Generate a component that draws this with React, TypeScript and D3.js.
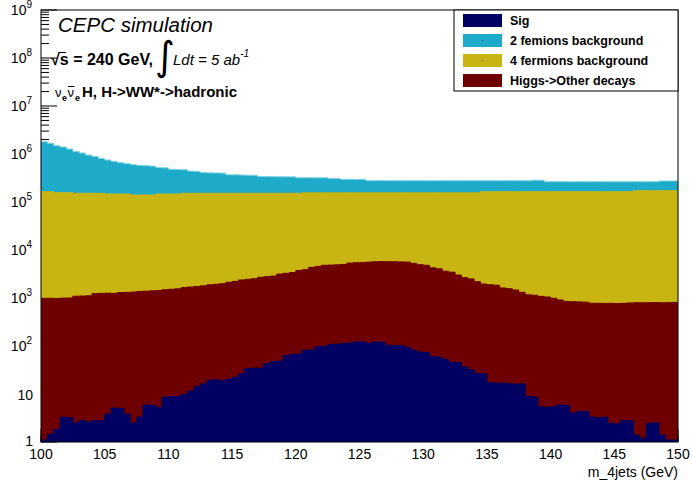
import React from "react";
import * as d3 from "d3";

// ---- data (bin contents, 100 bins of 0.5 GeV from 100 to 150) ----
const X_MIN = 100;
const X_MAX = 150;
const BIN_WIDTH = 0.5;

const sigValues = [
  1.1, 1.45, 1.84, 3.3, 3.2, 2.5, 2.8, 2.6, 2.8, 2.75,
  3.8, 5.1, 5.0, 3.8, 2.5, 3.3, 5.9, 5.8, 5.3, 8.6,
  8.8, 8.9, 9.8, 11.5, 14.2, 16.2, 19.4, 19.8, 18.7, 20.2,
  22.3, 26.5, 33.8, 34.5, 34.6, 42.8, 47.5, 48.5, 63, 66,
  68, 82, 83, 96, 98, 107, 109, 113, 115, 121,
  122, 114, 121, 120, 104, 102, 103, 94, 82.5, 75,
  73, 59.5, 58.5, 52.7, 46, 45.4, 36.5, 32.1, 26.8, 26.2,
  17.2, 16.8, 17, 16.4, 16, 16.2, 8.9, 8.7, 5.4, 5.3,
  5.4, 5.9, 5.8, 4.0, 4.3, 4.3, 3.3, 3.2, 3.3, 2.45,
  2.4, 2.8, 2.75, 1.4, 1.2, 2.45, 2.5, 1.4, 1.1, 1.1,
];

const higgsOtherValues = [
  984, 988, 978, 992, 997, 1087, 1097, 1107, 1227, 1247,
  1256, 1245, 1295, 1306, 1327, 1367, 1384, 1404, 1425, 1481,
  1511, 1541, 1640, 1688, 1726, 1774, 1860, 1910, 1961, 2110,
  2198, 2353, 2416, 2486, 2666, 2737, 2822, 3102, 3207, 3333,
  3683, 3817, 4267, 4453, 4703, 4742, 4792, 4886, 5236, 5329,
  5379, 5486, 5579, 5629, 5617, 5597, 5547, 5506, 5192, 4876,
  4726, 4191, 3991, 3567, 3404, 2968, 2613, 2468, 2160, 1931,
  1863, 1833, 1603, 1544, 1452, 1297, 1161, 1131, 1075, 1045,
  980, 903, 844, 836, 826, 816, 777, 772, 767, 773,
  768, 772, 787, 799, 794, 798, 803, 794, 799, 809,
];

const fermion4Values = [
  163000, 162800, 155000, 155100, 154900, 150900, 150800, 151000, 150800, 150700,
  145700, 145800, 145600, 145700, 138700, 138500, 138700, 138600, 145600, 145500,
  145400, 145500, 150300, 150300, 150200, 150200, 150100, 150000, 150000, 149900,
  149800, 149600, 149500, 149500, 149300, 149200, 149100, 148800, 148700, 148600,
  148200, 151100, 150600, 150400, 150200, 150100, 150100, 150000, 149700, 149500,
  149500, 149400, 149300, 149200, 149300, 149300, 149400, 149400, 149700, 150000,
  150200, 150800, 150900, 151400, 151500, 152000, 152300, 152500, 152800, 162000,
  162100, 162200, 162400, 162400, 162500, 162700, 162800, 162900, 162900, 163000,
  163000, 163100, 163200, 163100, 163200, 163200, 163200, 163300, 163200, 163200,
  163200, 163200, 163200, 171200, 171300, 171200, 171100, 171200, 171200, 171300,
];

const fermion2Values = [
  1636000, 1506000, 1334000, 1244000, 1114000, 978000, 898000, 798000, 738000, 658000,
  603000, 553000, 513000, 483000, 460000, 440000, 430000, 420000, 378000, 368000,
  333000, 328000, 318000, 288000, 283000, 258000, 253000, 251000, 248000, 218000,
  216000, 213000, 210000, 208000, 188000, 186000, 185000, 184000, 183000, 182000,
  168000, 165000, 165000, 164000, 165000, 155000, 155000, 142000, 142000, 141000,
  142000, 123000, 123000, 124000, 123000, 123000, 122000, 123000, 123000, 123000,
  123000, 122000, 123000, 123000, 123000, 122000, 123000, 123000, 123000, 114000,
  114000, 114000, 113000, 114000, 114000, 114000, 114000, 121000, 121000, 101000,
  101000, 101000, 101000, 100000, 101000, 101000, 101000, 101000, 100000, 101000,
  101000, 101000, 101000, 93000, 93000, 93000, 93000, 102000, 102000, 102000,
];

const seriesKeys = ["sig", "higgs", "f4", "f2"];
const seriesLabels = ["Sig", "2 femions background", "4 fermions background", "Higgs->Other decays"];
const legendKeys = ["sig", "f2", "f4", "higgs"];
const seriesColors: Record<string, string> = {
  sig: "#000062",
  higgs: "#6e0000",
  f4: "#c8b513",
  f2: "#1eabc9",
};
const lineColors: Record<string, string> = {
  sig: "#000062",
  higgs: "#6e0000",
  f4: "#c8b513",
  f2: "#7fd3e6",
};

const xTickValues = [100, 105, 110, 115, 120, 125, 130, 135, 140, 145, 150];
const yExponents = [0, 1, 2, 3, 4, 5, 6, 7, 8, 9];

// ---- layout ----
const W = 692;
const H = 488;
const L = 41;
const R = 678;
const T = 10;
const B = 442;
const FONT = "'Liberation Sans', Arial, Helvetica, sans-serif";

export default function App() {
  const x = d3.scaleLinear().domain([X_MIN, X_MAX]).range([L, R]);
  const y = d3.scaleLog().domain([1, 1e9]).range([B, T]).clamp(true);

  const rows = sigValues.map((_, i) => ({
    x0: X_MIN + i * BIN_WIDTH,
    sig: sigValues[i],
    higgs: higgsOtherValues[i],
    f4: fermion4Values[i],
    f2: fermion2Values[i],
  }));

  const stacked = d3.stack<any>().keys(seriesKeys)(rows);

  const area = d3
    .area<{ xv: number; v: number }>()
    .curve(d3.curveStepAfter)
    .x((p) => x(p.xv))
    .y0(B)
    .y1((p) => y(Math.max(p.v, 1e-3)));

  const line = d3
    .line<{ xv: number; v: number }>()
    .curve(d3.curveStepAfter)
    .x((p) => x(p.xv))
    .y((p) => y(Math.max(p.v, 1e-3)));

  const layers = stacked.map((layer) => {
    const pts = layer.map((d: any) => ({ xv: d.data.x0, v: d[1] }));
    pts.push({ xv: X_MAX, v: layer[layer.length - 1][1] });
    return { key: layer.key, pts };
  });

  // minor ticks for log axis
  const yMinor: number[] = [];
  for (let e = 0; e < 9; e++) {
    for (let m = 2; m <= 9; m++) yMinor.push(m * Math.pow(10, e));
  }
  const xMinor = d3.range(X_MIN, X_MAX + 0.001, 1);

  return (
    <svg
      width={W}
      height={H}
      style={{ position: "absolute", left: 0, top: 0, background: "#fff" }}
      fontFamily={FONT}
    >
      <rect x={0} y={0} width={W} height={H} fill="#fff" />
      {/* ticks (drawn under histograms) */}
      <g stroke="#000" strokeWidth={1}>
        {yExponents.map((e) => (
          <line key={"ym" + e} x1={L} x2={L + 16} y1={y(Math.pow(10, e))} y2={y(Math.pow(10, e))} />
        ))}
        {yMinor.map((v, i) => (
          <line key={"yn" + i} x1={L} x2={L + 8} y1={y(v)} y2={y(v)} />
        ))}
        {xTickValues.map((v) => (
          <line key={"xm" + v} x1={x(v)} x2={x(v)} y1={B} y2={B - 13} />
        ))}
        {xMinor.map((v, i) => (
          <line key={"xn" + i} x1={x(v)} x2={x(v)} y1={B} y2={B - 6} />
        ))}
      </g>

      {/* stacked histograms, drawn cumulative from the top layer down */}
      {layers
        .slice()
        .reverse()
        .map((l) => (
          <g key={l.key}>
            <path d={area(l.pts) || ""} fill={seriesColors[l.key]} />
            <path d={line(l.pts) || ""} fill="none" stroke={lineColors[l.key]} strokeWidth={1} />
          </g>
        ))}

      {/* frame */}
      <rect x={L} y={T} width={R - L} height={B - T} fill="none" stroke="#000" strokeWidth={1} />

      {/* y tick labels */}
      <g fontSize={14} fill="#000">
        {yExponents.map((e) => {
          const yy = y(Math.pow(10, e));
          if (e === 0)
            return (
              <text key={e} x={33} y={yy + 4} textAnchor="end">
                1
              </text>
            );
          if (e === 1)
            return (
              <text key={e} x={33} y={yy + 6} textAnchor="end">
                10
              </text>
            );
          return (
            <text key={e} x={32} y={yy + 5} textAnchor="end">
              10
              <tspan dy={-7} fontSize={10}>
                {e}
              </tspan>
            </text>
          );
        })}
      </g>

      {/* x tick labels */}
      <g fontSize={14} fill="#000" textAnchor="middle">
        {xTickValues.map((v) => (
          <text key={v} x={x(v)} y={459}>
            {v}
          </text>
        ))}
      </g>
      <text x={R} y={477} fontSize={14} textAnchor="end">
        m_4jets (GeV)
      </text>

      {/* annotations */}
      <text x={58} y={32} fontSize={20.5} fontStyle="italic">
        CEPC simulation
      </text>
      <g>
        <text x={51} y={65} fontSize={16} fontWeight="bold">
          √s = 240 GeV,
        </text>
        <line x1={58.5} x2={66} y1={52.5} y2={52.5} stroke="#000" strokeWidth={1} />
        <text x={155} y={70} fontSize={38} fontFamily="'DejaVu Sans', sans-serif" transform="translate(155 70) scale(1 1.05) translate(-155 -70)">
          ∫
        </text>
        <text x={173} y={65} fontSize={15} fontStyle="italic">
          Ldt = 5 ab
          <tspan dy={-8} fontSize={10}>
            -1
          </tspan>
        </text>
      </g>
      <g fontSize={15}>
        <text x={55} y={97} fontSize={13}>
          ν
        </text>
        <text x={62} y={101} fontSize={9} fontWeight="bold">
          e
        </text>
        <text x={67.5} y={97} fontSize={13}>
          ν
        </text>
        <line x1={68} x2={74.5} y1={86.5} y2={86.5} stroke="#000" strokeWidth={1} />
        <text x={75} y={101} fontSize={9} fontWeight="bold">
          e
        </text>
        <text x={82} y={97} fontWeight="bold">
          H, H-&gt;WW*-&gt;hadronic
        </text>
      </g>

      {/* legend */}
      <rect x={454} y={T} width={R - 454} height={81} fill="#fff" stroke="#000" strokeWidth={1} />
      {legendKeys.map((k, i) => {
        const cy = 20.5 + i * 20;
        return (
          <g key={k}>
            <rect x={463} y={cy - 6.5} width={39} height={13} fill={seriesColors[k]} />
            <rect x={482} y={cy - 0.5} width={1} height={1} fill="#222" />
            <text x={510} y={cy + 4.5} fontSize={12.5} fontWeight="bold">
              {seriesLabels[i]}
            </text>
          </g>
        );
      })}
    </svg>
  );
}
